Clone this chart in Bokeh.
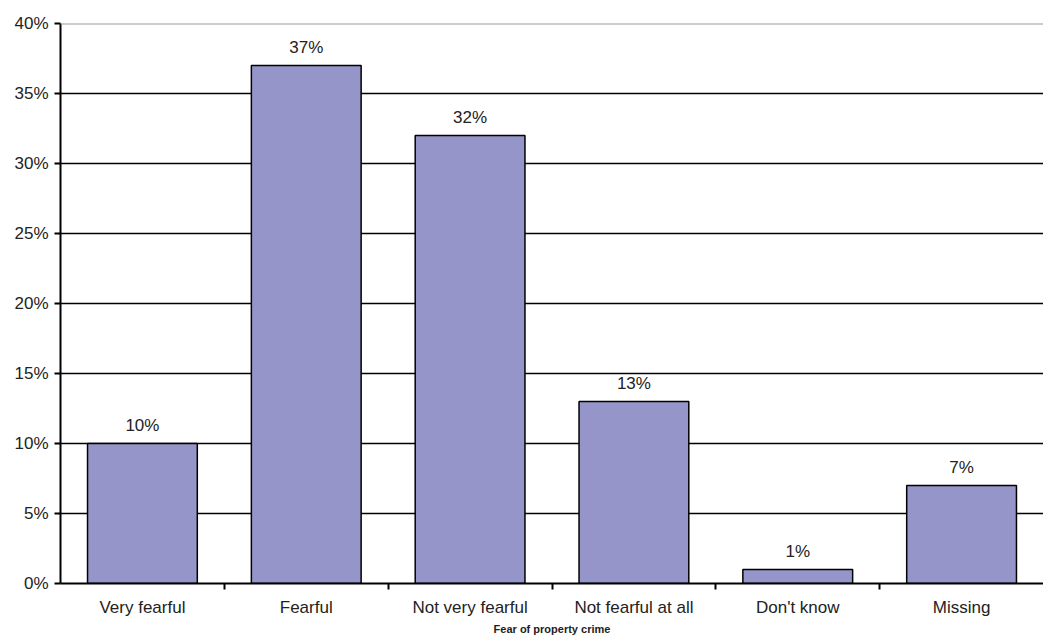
from bokeh.plotting import figure
from bokeh.models import ColumnDataSource, FixedTicker, NumeralTickFormatter, Range1d, Span, LabelSet
from bokeh.core.properties import value
from bokeh.embed import file_html
from bokeh.resources import INLINE

categories = ["Very fearful", "Fearful", "Not very fearful", "Not fearful at all", "Don't know", "Missing"]
values = [0.10, 0.37, 0.32, 0.13, 0.01, 0.07]
value_labels = ["10%", "37%", "32%", "13%", "1%", "7%"]
y_ticks = [0.0, 0.05, 0.10, 0.15, 0.20, 0.25, 0.30, 0.35, 0.40]

xpos = [i + 0.5 for i in range(len(categories))]
src = ColumnDataSource(dict(x=xpos, top=values, lab=value_labels))

FONT = "Liberation Sans"
p = figure(width=1043, height=640, output_backend="svg", toolbar_location=None,
           x_range=Range1d(0, len(categories)), y_range=Range1d(0, 0.40),
           min_border_left=60, min_border_right=0, min_border_top=23, min_border_bottom=57)
p.outline_line_color = None
p.background_fill_color = "white"

p.vbar(x="x", top="top", width=0.67, bottom=0, source=src,
       fill_color="#9595C9", line_color="black", line_width=1.5)

labels = LabelSet(x="x", y="top", text="lab", source=src, text_align="center",
                  text_baseline="bottom", y_offset=9, text_font=value(FONT),
                  text_font_size=value("17px"), text_color="#222222")
p.add_layout(labels)

p.add_layout(Span(location=0.40, dimension="width", line_color="#999999", line_width=2))

# y axis
p.yaxis.ticker = FixedTicker(ticks=y_ticks)
p.yaxis.formatter = NumeralTickFormatter(format="0%")
p.yaxis.major_label_text_font = FONT
p.yaxis.major_label_text_font_size = "17px"
p.yaxis.major_label_text_color = "#222222"
p.yaxis.major_tick_out = 6
p.yaxis.major_tick_in = 0
p.yaxis.minor_tick_line_color = None
p.yaxis.axis_line_color = "black"
p.yaxis.axis_line_width = 2
p.yaxis.major_tick_line_width = 2
p.yaxis.major_label_standoff = 6

p.ygrid.ticker = FixedTicker(ticks=y_ticks[1:-1])
p.ygrid.grid_line_color = "black"
p.ygrid.grid_line_width = 1.5
p.xgrid.grid_line_color = None

# x axis
p.xaxis.ticker = FixedTicker(ticks=xpos, minor_ticks=[1, 2, 3, 4, 5])
p.xaxis.major_label_overrides = {x: c for x, c in zip(xpos, categories)}
p.xaxis.major_tick_line_color = None
p.xaxis.major_tick_out = 0
p.xaxis.major_tick_in = 0
p.xaxis.minor_tick_out = 6
p.xaxis.minor_tick_in = 0
p.xaxis.minor_tick_line_width = 2
p.xaxis.axis_line_color = "black"
p.xaxis.axis_line_width = 2
p.xaxis.major_label_text_font = FONT
p.xaxis.major_label_text_font_size = "17px"
p.xaxis.major_label_text_color = "#222222"
p.xaxis.major_label_standoff = 8
p.xaxis.axis_label = "Fear of property crime"
p.xaxis.axis_label_text_font = FONT
p.xaxis.axis_label_text_font_size = "11px"
p.xaxis.axis_label_text_font_style = "bold"
p.xaxis.axis_label_text_color = "#222222"
p.xaxis.axis_label_standoff = 3

open("out.html", "w").write(file_html(p, INLINE))
